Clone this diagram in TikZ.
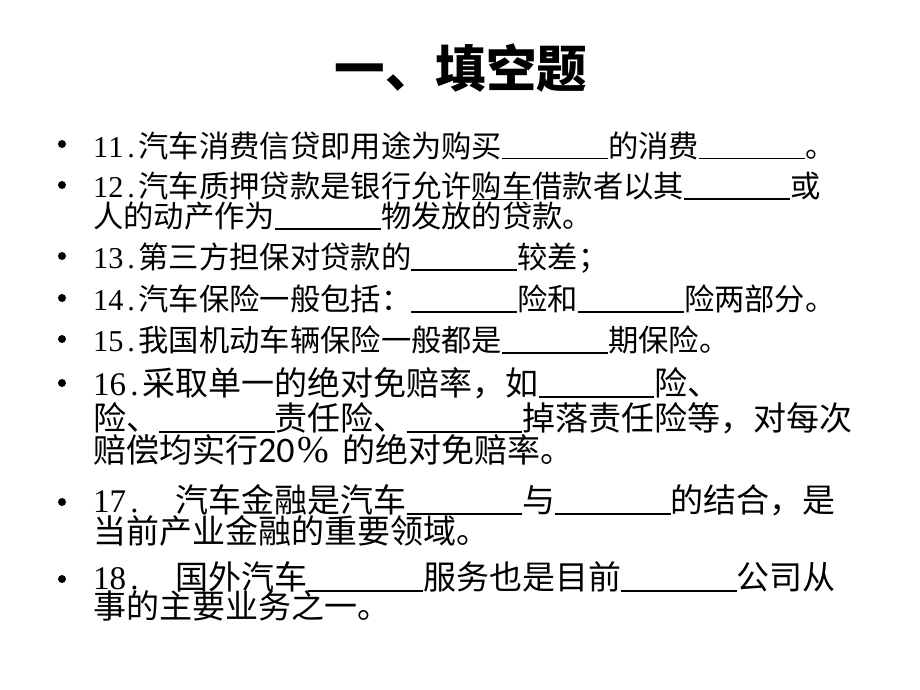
\documentclass[tikz,border=0pt]{standalone}
\usepackage{fontspec}
\newfontfamily\cjk{Noto Sans CJK SC}
\newfontfamily\numf{Liberation Serif}
\newfontfamily\calf{Carlito}
\newcommand\fillin{\rule[-2.4pt]{3.5em}{1.7pt}}
\newcommand\qnum[2]{\makebox[.5em]{\numf #1}\makebox[.5em]{\numf #2}\makebox[.5em]{\numf .}}
\newcommand\ulword[1]{\rlap{\rule[-2.6pt]{2em}{0.9pt}}#1}
\tikzset{
  txtline/.style={anchor=base west, inner sep=0pt, font=\cjk\fontsize{30.3}{30.3}\selectfont},
  txtlineb/.style={anchor=base west, inner sep=0pt, font=\cjk\fontsize{33}{33}\selectfont},
  bul/.style={circle, fill=black, inner sep=0pt, minimum size=8pt},
  ttl/.style={inner sep=0pt, font=\cjk\bfseries\fontsize{50.5}{50.5}\selectfont}
}
\begin{document}
\begin{tikzpicture}[x=1pt, y=-1pt]
\fill[white] (0,0) rectangle (920,690);
\useasboundingbox (0,0) rectangle (920,690);
\node[ttl] (title) at (461,68) {一、填空题};
% bullets
\node[bul] (b11) at (62,144) {};
\node[bul] (b12) at (62,185) {};
\node[bul] (b13) at (62,256) {};
\node[bul] (b14) at (62,298) {};
\node[bul] (b15) at (62,339) {};
\node[bul] (b16) at (62,383) {};
\node[bul] (b17) at (62,502) {};
\node[bul] (b18) at (62,579) {};
% lines
\node[txtline] (l11) at (93,157) {\qnum{1}{1}汽车消费信贷即用途为购买\fillin 的消费\fillin 。};
\node[txtline] (l12a) at (93,197.5) {\qnum{1}{2}汽车质押贷款是银行允许\ulword{购车}借款者以其\fillin 或};
\node[txtline] (l12b) at (93,227.5) {人的动产作为\fillin 物发放的贷款。};
\node[txtline] (l13) at (93,268.5) {\qnum{1}{3}第三方担保对贷款的\fillin 较差；};
\node[txtline] (l14) at (93,310.5) {\qnum{1}{4}汽车保险一般包括：\fillin 险和\fillin 险两部分。};
\node[txtline] (l15) at (93,351.5) {\qnum{1}{5}我国机动车辆保险一般都是\fillin 期保险。};
\node[txtlineb] (l16a) at (93,395.5) {\qnum{1}{6}采取单一的绝对免赔率，如\fillin 险、};
\node[txtlineb] (l16b) at (93,430.5) {险、\fillin 责任险、\fillin 掉落责任险等，对每次};
\node[txtlineb] (l16c) at (93,462.5) {赔偿均实行{\calf\fontsize{36}{36}\selectfont 20}\makebox[48pt][l]{\hspace{3pt}\numf\fontsize{38}{38}\selectfont\%}的绝对免赔率。};
\node[txtlineb] (l17a) at (93,512.5) {\qnum{1}{7}\hspace{1em}汽车金融是汽车\fillin 与\fillin 的结合，是};
\node[txtlineb] (l17b) at (93,543.5) {当前产业金融的重要领域。};
\node[txtlineb] (l18a) at (93,589.5) {\qnum{1}{8}\hspace{1em}国外汽车\fillin 服务也是目前\fillin 公司从};
\node[txtlineb] (l18b) at (93,618.5) {事的主要业务之一。};
\end{tikzpicture}
\end{document}
